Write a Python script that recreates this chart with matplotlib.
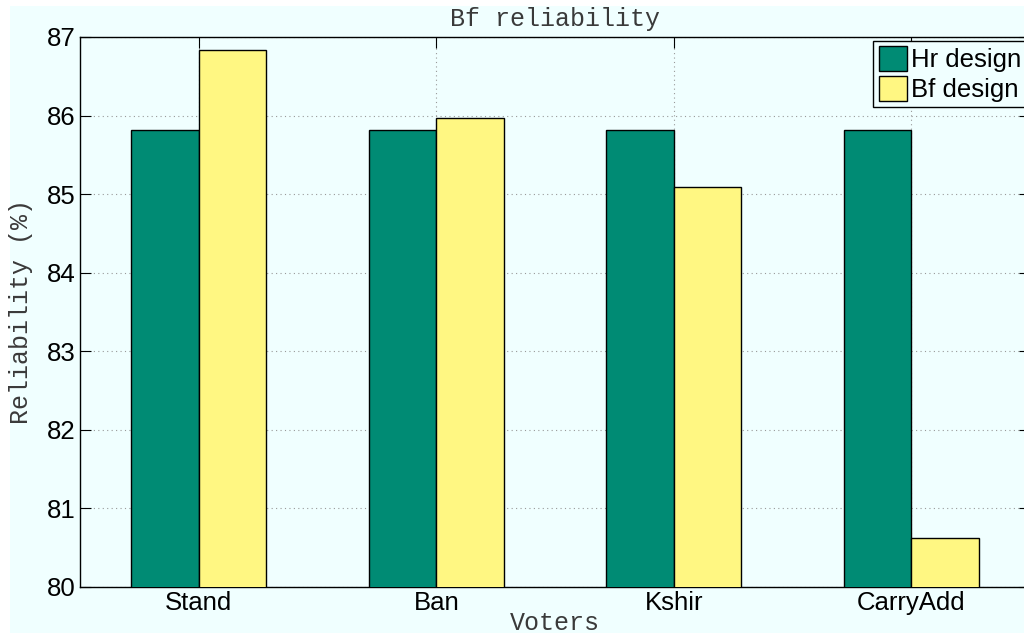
"""
Bf reliability - grouped bar chart (Hr design vs Bf design per voter)
"""
import numpy as np
import matplotlib
matplotlib.use("Agg")
import matplotlib.pyplot as plt
from matplotlib.patches import Rectangle

voters = ["Stand", "Ban", "Kshir", "CarryAdd"]
hr_design = [85.82, 85.82, 85.82, 85.82]
bf_design = [86.84, 85.97, 85.09, 80.63]
yticks = [80, 81, 82, 83, 84, 85, 86, 87]

BG = "#F0FFFF"
TEAL = "#008B74"
YELLOW = "#FFF782"
MONO = "Liberation Mono"
SANS = "Liberation Sans"
LABEL_COL = "#3a3a3a"

fig = plt.figure(figsize=(10.24, 6.4), dpi=100)
fig.patch.set_facecolor("white")
# light cyan panel behind everything, with a thin white margin top/left
bg_rect = Rectangle((10 / 1024, 1 - 633 / 640), 1.0, (633 - 6) / 640,
                    transform=fig.transFigure, facecolor=BG,
                    edgecolor="none", zorder=-10)
fig.add_artist(bg_rect)

ax = fig.add_axes([80 / 1024, 1 - 587 / 640, 950 / 1024, 550 / 640])
ax.set_facecolor(BG)

x = np.arange(1, len(voters) + 1)
w = 0.285
ax.bar(x - w / 2, hr_design, w, color=TEAL, edgecolor="black", linewidth=1.0,
       label="Hr design", zorder=3)
ax.bar(x + w / 2, bf_design, w, color=YELLOW, edgecolor="black", linewidth=1.0,
       label="Bf design", zorder=3)

ax.set_xlim(0.5, 4.5)
ax.set_ylim(80, 87)
ax.set_xticks(x)
ax.set_xticklabels(voters, fontfamily=SANS, fontsize=18.5)
ax.set_yticks(yticks)
ax.set_yticklabels([str(t) for t in yticks], fontfamily=SANS, fontsize=18.5)
ax.tick_params(direction="in", length=8, width=0.8, top=True, right=True, pad=3)

ax.grid(True, linestyle=(0, (1, 3)), color="#999999", linewidth=0.8)
ax.set_axisbelow(True)
for s in ax.spines.values():
    s.set_linewidth(1.0)
    s.set_color("black")

ax.set_title("Bf reliability", fontfamily=MONO, fontsize=18, pad=8,
             color=LABEL_COL)
ax.set_xlabel("Voters", fontfamily=MONO, fontsize=18, labelpad=-3,
              color=LABEL_COL)
ax.set_ylabel("Reliability (%)", fontfamily=MONO, fontsize=18, labelpad=10,
              color=LABEL_COL)

leg = ax.legend(loc="upper right", prop={"family": SANS, "size": 18.5},
                fancybox=False, edgecolor="black", framealpha=1.0,
                borderaxespad=0.15, handlelength=1.1, handleheight=1.1,
                handletextpad=0.15, labelspacing=0.15, borderpad=0.2)
leg.get_frame().set_facecolor(BG)
leg.get_frame().set_linewidth(1.0)

fig.savefig("out.png", dpi=100, facecolor=fig.get_facecolor())
